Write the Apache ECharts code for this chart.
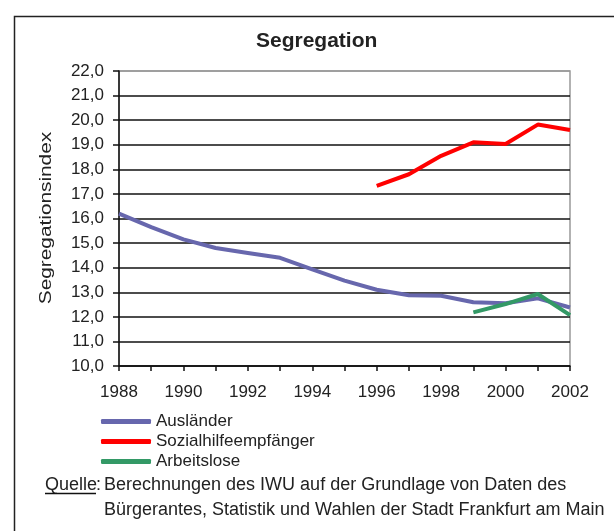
<!DOCTYPE html>
<html>
<head>
<meta charset="utf-8">
<script src="https://cdn.jsdelivr.net/npm/echarts@6/dist/echarts.min.js"></script>
<style>
  html, body { margin: 0; padding: 0; background: #fff; }
  #chart { width: 614px; height: 531px; }
</style>
</head>
<body>
<div id="chart"></div>
<script>
const years = ['1988','1989','1990','1991','1992','1993','1994','1995','1996','1997','1998','1999','2000','2001','2002'];
const auslaender = [16.2, 15.65, 15.15, 14.8, 14.6, 14.4, 13.93, 13.47, 13.1, 12.88, 12.86, 12.59, 12.55, 12.75, 12.38];
const sozialhilfe = [null, null, null, null, null, null, null, null, 17.33, 17.8, 18.55, 19.1, 19.03, 19.82, 19.6];
const arbeitslose = [null, null, null, null, null, null, null, null, null, null, null, 12.18, 12.52, 12.93, 12.07];
const seriesNames = ['Ausländer', 'Sozialhilfeempfänger', 'Arbeitslose'];

const font = 'Liberation Sans, Arial, sans-serif';
const ink = '#222';
const chart = echarts.init(document.getElementById('chart'));

// split lines black, the top one (plot border) grey
const splitColors = [];
for (let i = 0; i < 12; i++) splitColors.push('#111');
splitColors.push('#999');

chart.setOption({
    animation: false,
    backgroundColor: '#fff',
    textStyle: { fontFamily: font },
    title: {
        text: 'Segregation',
        left: 256,
        top: 31,
        padding: 0,
        textStyle: { fontSize: 21, fontWeight: 'bold', color: ink, fontFamily: font }
    },
    grid: {
        left: 119, top: 71, right: 44, bottom: 165,
        show: true, borderColor: '#999', borderWidth: 1.5
    },
    legend: {
        orient: 'vertical',
        left: 101,
        top: 413,
        padding: 0,
        icon: 'roundRect',
        itemWidth: 50,
        itemHeight: 5,
        itemGap: 3,
        data: seriesNames,
        textStyle: { fontSize: 17, color: ink, fontFamily: font }
    },
    xAxis: {
        type: 'category',
        boundaryGap: false,
        data: years,
        axisLine: { lineStyle: { color: '#111', width: 1.5 } },
        axisTick: { show: true, interval: 0, length: 5, lineStyle: { color: '#111', width: 1.5 } },
        axisLabel: {
            interval: 1, margin: 18, fontSize: 17, color: ink, fontFamily: font
        },
        splitLine: { show: false }
    },
    yAxis: {
        type: 'value',
        min: 10,
        max: 22,
        interval: 1,
        axisLine: { show: true, lineStyle: { color: '#111', width: 1.5 } },
        axisTick: { show: true, length: 6, lineStyle: { color: '#111', width: 1.5 } },
        axisLabel: {
            margin: 15, fontSize: 17, color: ink, fontFamily: font,
            formatter: v => v.toFixed(1).replace('.', ',')
        },
        splitLine: { show: true, lineStyle: { color: splitColors, width: 1.5 } }
    },
    series: [
        {
            name: seriesNames[0], type: 'line', data: auslaender, symbol: 'none',
            lineStyle: { width: 4, color: '#6767ad' }, itemStyle: { color: '#6767ad' }
        },
        {
            name: seriesNames[1], type: 'line', data: sozialhilfe, symbol: 'none',
            lineStyle: { width: 4, color: '#ff0000' }, itemStyle: { color: '#ff0000' }
        },
        {
            name: seriesNames[2], type: 'line', data: arbeitslose, symbol: 'none',
            lineStyle: { width: 4, color: '#339966' }, itemStyle: { color: '#339966' }
        }
    ],
    graphic: [
        {
            type: 'rect', left: 12, top: 14, silent: true,
            shape: { width: 800, height: 800 },
            style: { fill: 'none', stroke: ink, lineWidth: 1.5 }
        },
        {
            // axis name, stretched along its length like the original
            type: 'text', x: 47, y: 218, rotation: Math.PI / 2, scaleX: 1.3, silent: true,
            style: {
                text: 'Segregationsindex', font: '16px ' + font, fill: ink,
                align: 'center', verticalAlign: 'middle'
            }
        },
        {
            type: 'text', left: 45, top: 476,
            style: { text: 'Quelle', fill: ink, font: '18px ' + font }
        },
        {
            type: 'line', silent: true,
            shape: { x1: 45, y1: 493.5, x2: 96, y2: 493.5 },
            style: { stroke: '#111', lineWidth: 1.3 }
        },
        {
            type: 'text', left: 96, top: 476,
            style: { text: ':', fill: ink, font: '18px ' + font }
        },
        {
            type: 'text', left: 104, top: 476,
            style: { text: 'Berechnungen des IWU auf der Grundlage von Daten des', fill: ink, font: '18px ' + font }
        },
        {
            type: 'text', left: 104, top: 501,
            style: { text: 'Bürgerantes, Statistik und Wahlen der Stadt Frankfurt am Main', fill: ink, font: '18px ' + font }
        }
    ]
});
</script>
</body>
</html>
